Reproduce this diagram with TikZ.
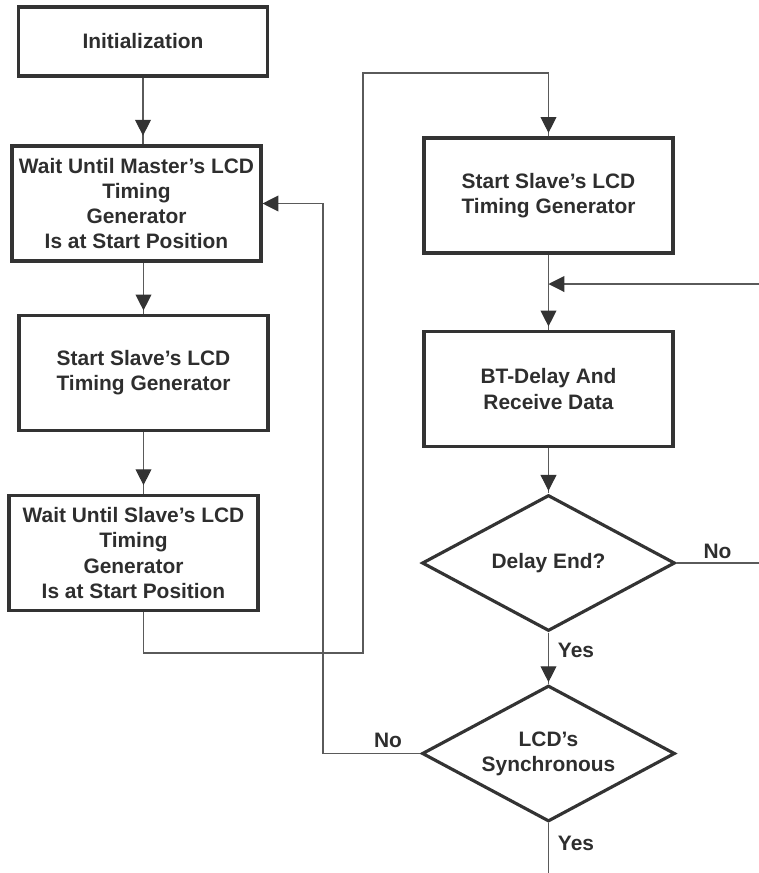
\documentclass[tikz,border=0pt]{standalone}
\usepackage{fontspec}
\setmainfont{Liberation Sans}
\usetikzlibrary{shapes.geometric, arrows.meta, decorations.markings}
\definecolor{boxline}{HTML}{333333}
\definecolor{wiregray}{HTML}{5A5A5A}
\definecolor{ink}{HTML}{2E2E2E}
\tikzset{
  flowbox/.style={draw=boxline, line width=1.8pt, minimum width=4.98cm, minimum height=2.3cm,
    align=center, text=ink, inner sep=1pt},
  decision/.style={diamond, aspect=1.86, draw=boxline, line width=1.8pt, minimum width=5.06cm,
    minimum height=2.72cm, align=center, text=ink, inner sep=0pt},
  wire/.style={draw=wiregray, line width=0.6pt},
  head/.style={-{Triangle[length=9pt,width=9pt,color=boxline]}},
  arrowat/.style={postaction={decorate}, decoration={markings,
    mark=at position #1 with {\arrow{Triangle[length=9pt,width=9pt,color=boxline]}}}},
}
\begin{document}
\begin{tikzpicture}[x=0.02cm, y=-0.02cm,
    every node/.style={font=\fontsize{11.9}{14.3}\selectfont\bfseries}]
    \useasboundingbox (0,0) rectangle (759,873);

    % Left column
    \node[flowbox, minimum height=1.38cm] (init) at (143,41.5) {Initialization};
    \node[flowbox] (master) at (136.5,203.5) {Wait Until Master’s LCD\\Timing\\Generator\\Is at Start Position};
    \node[flowbox] (slaveL) at (143.5,373)  {Start Slave’s LCD\\Timing Generator};
    \node[flowbox] (waitS)  at (133.5,553)  {Wait Until Slave’s LCD\\Timing\\Generator\\Is at Start Position};

    % Right column
    \node[flowbox] (slaveR) at (548.5,195.5) {Start Slave’s LCD\\Timing Generator};
    \node[flowbox] (btd)    at (548.5,389)   {BT-Delay And\\Receive Data};
    \node[decision] (delay) at (548.5,563)   {Delay End?};
    \node[decision] (sync)  at (548.5,753.5) {LCD’s\\Synchronous};

    % Free ends and bends
    \coordinate (fbR)  at (759,284);
    \coordinate (noR)  at (759,563);
    \coordinate (jogA) at (363,653);
    \coordinate (jogB) at (363,73);
    \coordinate (loopX) at (323,0);
    \coordinate (endC) at (548.5,873);

    % Labels
    \node[text=ink] (noA)  at (717.5,551) {No};
    \node[text=ink] (yesA) at (576,650)   {Yes};
    \node[text=ink] (noB)  at (388,740)   {No};
    \node[text=ink] (yesB) at (576,843)   {Yes};

    % Connectors
    \draw[wire, arrowat=-5pt] (init.south) -- (init.south |- master.north);
    \draw[wire, arrowat=-2pt] (slaveL.north |- master.south) -- (slaveL.north);
    \draw[wire, arrowat=-5pt] (slaveL.south) -- (slaveL.south |- waitS.north);
    \draw[wire, arrowat=-2pt] (slaveL.south |- waitS.south) |- (jogA) -- (jogB) -| (slaveR.north);
    \draw[wire, arrowat=-2pt] (slaveR.south) -- (btd.north);
    \draw[wire, head] (fbR) -- (fbR -| btd.north);
    \draw[wire, arrowat=-1.5pt] (btd.south) -- (delay.north);
    \draw[wire] (delay.east) -- (noR);
    \draw[wire, arrowat=-1pt] (delay.south) -- (sync.north);
    \draw[wire, head] (sync.west) -| (loopX |- master.east) -- (master.east);
    \draw[wire] (sync.south) -- (endC);
  \end{tikzpicture}
\end{document}
